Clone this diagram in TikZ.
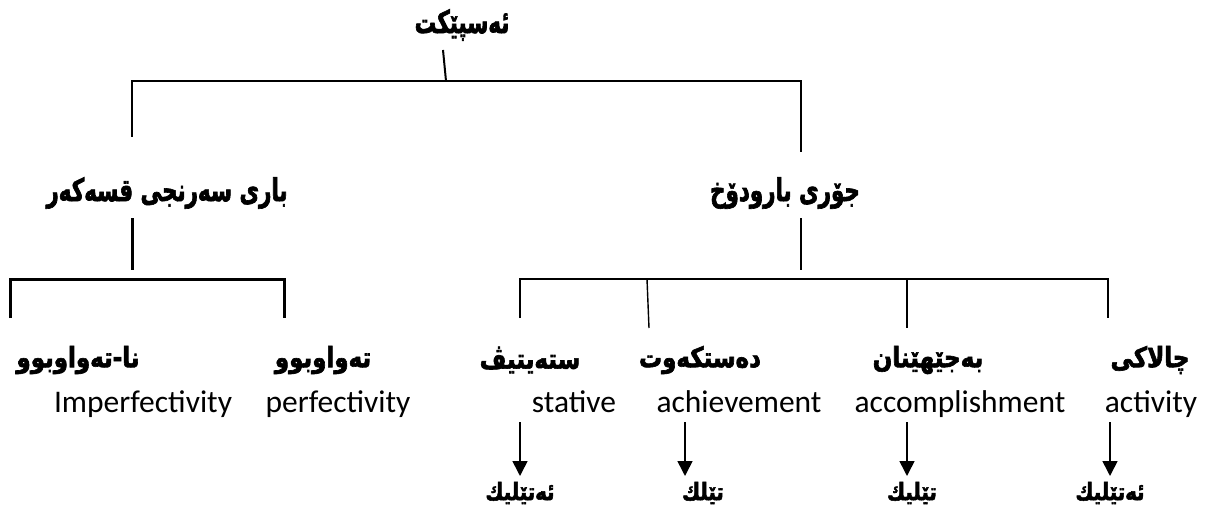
\documentclass[tikz,border=0pt]{standalone}
\usepackage{fontspec}
\usetikzlibrary{arrows.meta}
\TeXXeTstate=1
\newfontfamily\kurd[Script=Arabic,FakeStretch=0.82,BoldFeatures={FakeBold=2.2}]{DejaVu Sans}
\newfontfamily\kurdn[Script=Arabic,FakeStretch=0.68,BoldFeatures={FakeBold=2}]{DejaVu Sans}
\newfontfamily\eng{Carlito}
\begin{document}
\begin{tikzpicture}[x=1pt,y=-1pt,
  kur/.style={inner sep=0pt,font=\kurd\bfseries\fontsize{28}{32}\selectfont},
  kurlow/.style={inner sep=0pt,font=\kurd\bfseries\fontsize{24}{28}\selectfont},
  kurbig/.style={inner sep=0pt,font=\kurdn\bfseries\fontsize{31.5}{36}\selectfont},
  eng/.style={inner sep=0pt,anchor=base,font=\eng\fontsize{31.5}{36}\selectfont},
  bar/.style={line width=2pt},
  barthick/.style={line width=3pt},
  barthin/.style={line width=1.4pt},
  arr/.style={line width=1.6pt,-{Triangle[width=15pt,length=15pt]}}]
\useasboundingbox (0,0) rectangle (1208,508);
% texts
\node[kurbig] (root) at (462,25) {\beginR ئەسپێکت\endR};
\node[kurbig] (view) at (167,193) {\beginR باری سەرنجی قسەکەر\endR};
\node[kurbig] (sit) at (785,193) {\beginR جۆری بارودۆخ\endR};
\node[kur] (imp) at (78,360) {\beginR نا-تەواوبوو\endR};
\node[kur] (perf) at (323,360) {\beginR تەواوبوو\endR};
\node[kur] (stat) at (530,360) {\beginR ستەیتیڤ\endR};
\node[kur] (ach) at (700,360) {\beginR دەستکەوت\endR};
\node[kur] (acc) at (928,360) {\beginR بەجێهێنان\endR};
\node[kur] (act) at (1150,360) {\beginR چالاکی\endR};
\node[eng] (impE) at (143,412) {Imperfectivity};
\node[eng] (perfE) at (338,412) {perfectivity};
\node[eng] (statE) at (574,412) {stative};
\node[eng] (achE) at (739,412) {achievement};
\node[eng] (accE) at (960,412) {accomplishment};
\node[eng] (actE) at (1151,412) {activity};
\node[kurlow] (statT) at (520,493) {\beginR ئەتێلیك\endR};
\node[kurlow] (achT) at (703,493) {\beginR تێلك\endR};
\node[kurlow] (accT) at (912,493) {\beginR تێلیك\endR};
\node[kurlow] (actT) at (1110,493) {\beginR ئەتێلیك\endR};
% bracket points
\coordinate (r0) at (443,50);
\coordinate (r1) at (446,81);
\coordinate (rL) at (132,81);
\coordinate (rR) at (801,81);
\coordinate (vTop) at (132,137);
\coordinate (sTop) at (801,152);
\coordinate (vA) at (132,218);
\coordinate (vB) at (132,270);
\coordinate (sA) at (801,218);
\coordinate (sB) at (801,270);
\coordinate (lL) at (10,279);
\coordinate (lR) at (284,279);
\coordinate (lLd) at (10,318);
\coordinate (lRd) at (284,318);
\coordinate (kL) at (520,279);
\coordinate (kR) at (1108,279);
\coordinate (k1) at (520,318);
\coordinate (k2a) at (647,279);
\coordinate (k2) at (649,328);
\coordinate (k3a) at (907,279);
\coordinate (k3) at (907,328);
\coordinate (k4) at (1108,318);
% connectors
\draw[bar] (r0) -- (r1);
\draw[bar] (vTop) -- (rL) -- (rR) -- (sTop);
\draw[barthick] (vA) -- (vB);
\draw[bar] (sA) -- (sB);
\draw[barthick] (lLd) -- (lL) -- (lR) -- (lRd);
\draw[bar] (k1) -- (kL) -- (kR) -- (k4);
\draw[barthin] (k2a) -- (k2);
\draw[bar] (k3a) -- (k3);
% arrows
\coordinate (a1) at (520,422);
\coordinate (a2) at (685,422);
\coordinate (a3) at (907,422);
\coordinate (a4) at (1110,422);
\coordinate (e1) at (520,476);
\coordinate (e2) at (685,476);
\coordinate (e3) at (907,476);
\coordinate (e4) at (1110,476);
\draw[arr] (a1) -- (e1);
\draw[arr] (a2) -- (e2);
\draw[arr] (a3) -- (e3);
\draw[arr] (a4) -- (e4);
\end{tikzpicture}
\end{document}
